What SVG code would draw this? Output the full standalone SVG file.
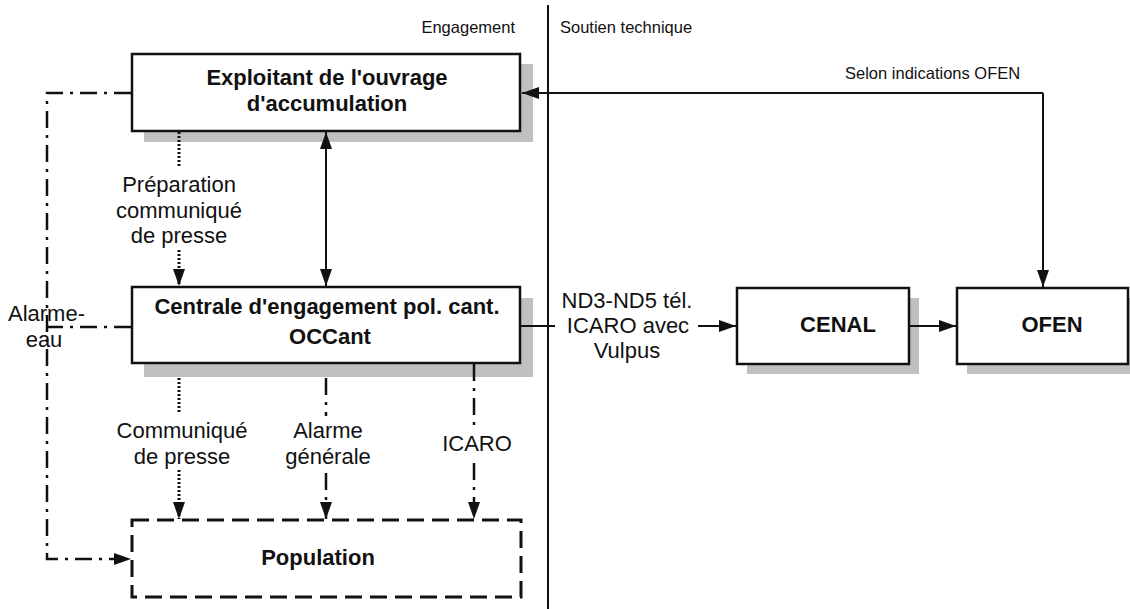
<svg xmlns="http://www.w3.org/2000/svg" width="1130" height="609" viewBox="0 0 1130 609">
<style>
text{font-family:"Liberation Sans",Arial,sans-serif;fill:#111}
.b{font-weight:bold;font-size:22px}
.r{font-size:22px}
.s{font-size:16.5px}
.box{fill:#fff;stroke:#111;stroke-width:2.5}
.sh{fill:#c0c0c0}
.ln{fill:none;stroke:#111;stroke-width:2}
.dot{stroke-dasharray:2 2;stroke-width:3}
.dd{stroke-dasharray:17 7 3 7;stroke-width:2.5}
</style>
<defs>
<marker id="ah" viewBox="0 0 17 12" markerWidth="17" markerHeight="12" refX="17" refY="6" orient="auto-start-reverse" markerUnits="userSpaceOnUse">
<path d="M0,0 L17,6 L0,12 z" fill="#111"/>
</marker>
</defs>
<g id="divider">
<line x1="548" y1="5" x2="548" y2="609" stroke="#111" stroke-width="2"/>
<text class="s" x="515" y="33" text-anchor="end">Engagement</text>
<text class="s" x="560" y="33">Soutien technique</text>
</g>
<g id="exploitant">
<rect class="sh" x="144" y="64" width="389" height="78"/>
<rect class="box" x="132" y="54" width="388" height="77"/>
<text class="b" x="327" y="85" text-anchor="middle">Exploitant de l'ouvrage</text>
<text class="b" x="327" y="111" text-anchor="middle">d'accumulation</text>
</g>
<g id="centrale">
<rect class="sh" x="144" y="298" width="389" height="79"/>
<rect class="box" x="132" y="287" width="388" height="76"/>
<text class="b" x="327" y="314" text-anchor="middle">Centrale d'engagement pol. cant.</text>
<text class="b" x="330" y="344" text-anchor="middle">OCCant</text>
</g>
<g id="population">
<rect x="132" y="520" width="389" height="77" fill="none" stroke="#111" stroke-width="3" stroke-dasharray="17 8"/>
<text class="b" x="318" y="565" text-anchor="middle">Population</text>
</g>
<g id="cenal">
<rect class="sh" x="747" y="298" width="172" height="76"/>
<rect class="box" x="737" y="288" width="172" height="76"/>
<text class="b" x="838" y="332" text-anchor="middle">CENAL</text>
</g>
<g id="ofen">
<rect class="sh" x="967" y="298" width="163" height="76"/>
<rect class="box" x="957" y="288" width="171" height="76"/>
<text class="b" x="1052" y="332" text-anchor="middle">OFEN</text>
</g>
<g id="connectors">
<path class="ln dd" d="M131,93 H47 V559 H131" marker-end="url(#ah)"/>
<path class="ln dd" d="M131,327 H47"/>
<path class="ln" d="M1043,93 H522" marker-end="url(#ah)"/>
<path class="ln" d="M1043,93 V287" marker-end="url(#ah)"/>
<path class="ln dot" d="M179,132 V167"/>
<path class="ln dot" d="M179,250 V286" marker-end="url(#ah)"/>
<path class="ln" d="M326,132 V286" marker-start="url(#ah)" marker-end="url(#ah)"/>
<path class="ln dot" d="M179,378 V413"/>
<path class="ln dot" d="M179,470 V519" marker-end="url(#ah)"/>
<path class="ln dd" d="M326,378 V416"/>
<path class="ln dd" d="M326,473 V519" marker-end="url(#ah)"/>
<path class="ln dd" d="M474,364 V428"/>
<path class="ln dd" d="M474,463 V519" marker-end="url(#ah)"/>
<path class="ln" d="M521,326 H555"/>
<path class="ln" d="M698,326 H736" marker-end="url(#ah)"/>
<path class="ln" d="M910,326 H956" marker-end="url(#ah)"/>
<text class="s" x="845" y="79">Selon indications OFEN</text>
<text class="r" x="179" y="192" text-anchor="middle">Préparation</text>
<text class="r" x="179" y="218" text-anchor="middle">communiqué</text>
<text class="r" x="179" y="243" text-anchor="middle">de presse</text>
<text class="r" x="8" y="321">Alarme-</text>
<text class="r" x="44" y="347" text-anchor="middle">eau</text>
<text class="r" x="182" y="438" text-anchor="middle">Communiqué</text>
<text class="r" x="182" y="464" text-anchor="middle">de presse</text>
<text class="r" x="328" y="438" text-anchor="middle">Alarme</text>
<text class="r" x="328" y="464" text-anchor="middle">générale</text>
<text class="r" x="477" y="451" text-anchor="middle">ICARO</text>
<text class="r" x="627" y="308" text-anchor="middle">ND3-ND5 tél.</text>
<text class="r" x="628" y="333" text-anchor="middle">ICARO avec</text>
<text class="r" x="627" y="358" text-anchor="middle">Vulpus</text>
</g>
</svg>
